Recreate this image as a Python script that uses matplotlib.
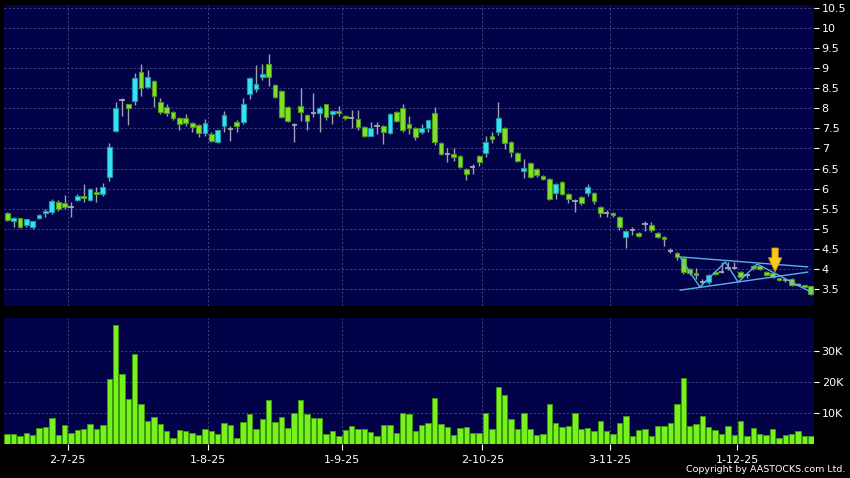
import numpy as np
import matplotlib
matplotlib.use('Agg')
import matplotlib.pyplot as plt

# daily OHLC (HKD)
opens = [5.39, 5.19, 5.27, 5.10, 5.05, 5.27, 5.39, 5.42, 5.67, 5.64,
         5.54, 5.72, 5.82, 5.72, 5.92, 5.87, 6.29, 7.43, 8.20, 8.10,
         8.18, 8.90, 8.53, 8.68, 8.16, 8.03, 7.91, 7.76, 7.76, 7.64,
         7.59, 7.39, 7.36, 7.16, 7.56, 7.49, 7.66, 7.66, 8.36, 8.48,
         8.78, 9.10, 8.58, 8.43, 8.03, 7.59, 8.06, 7.83, 7.88, 7.88,
         8.10, 7.86, 7.93, 7.81, 7.76, 7.73, 7.54, 7.31, 7.56, 7.56,
         7.39, 7.91, 8.00, 7.61, 7.51, 7.41, 7.51, 7.88, 7.14, 6.86,
         6.86, 6.81, 6.49, 6.54, 6.81, 6.89, 7.31, 7.41, 7.51, 7.16,
         6.89, 6.44, 6.64, 6.49, 6.31, 6.24, 5.89, 6.17, 5.87, 5.69,
         5.79, 5.89, 5.89, 5.54, 5.39, 5.39, 5.29, 4.80, 4.97, 4.90,
         5.12, 5.09, 4.90, 4.80, 4.45, 4.40, 4.27, 4.00, 3.90, 3.67,
         3.67, 3.92, 3.92, 4.02, 4.03, 3.92, 3.85, 4.07, 4.07, 3.92,
         3.90, 3.77, 3.72, 3.75, 3.60, 3.60, 3.57]
highs = [5.42, 5.29, 5.28, 5.25, 5.20, 5.37, 5.50, 5.75, 5.72, 5.85,
         5.67, 5.87, 6.12, 6.02, 6.05, 6.15, 7.14, 8.16, 8.26, 8.12,
         8.88, 9.10, 8.96, 8.70, 8.26, 8.10, 7.93, 7.78, 7.85, 7.66,
         7.60, 7.73, 7.40, 7.47, 7.93, 7.56, 7.70, 8.25, 8.78, 9.08,
         9.10, 9.35, 8.60, 8.45, 8.05, 7.64, 8.50, 7.85, 8.38, 8.06,
         8.12, 7.95, 8.05, 7.83, 7.96, 7.96, 7.56, 7.66, 7.66, 7.58,
         7.88, 7.93, 8.10, 7.81, 7.53, 7.60, 7.72, 8.03, 7.16, 7.01,
         7.00, 6.83, 6.51, 6.62, 6.83, 7.30, 7.41, 8.16, 7.53, 7.18,
         6.91, 6.74, 6.66, 6.51, 6.34, 6.26, 6.14, 6.19, 5.89, 5.74,
         5.81, 6.12, 5.91, 5.56, 5.47, 5.41, 5.31, 4.96, 5.04, 4.91,
         5.20, 5.16, 4.92, 4.82, 4.52, 4.42, 4.30, 4.02, 4.02, 3.75,
         3.87, 3.94, 4.18, 4.17, 4.17, 3.94, 3.90, 4.09, 4.10, 3.94,
         3.91, 3.78, 3.76, 3.77, 3.66, 3.61, 3.58]
lows = [5.20, 5.05, 5.03, 5.05, 5.00, 5.25, 5.30, 5.38, 5.45, 5.50,
        5.29, 5.68, 5.67, 5.68, 5.66, 5.82, 6.19, 7.41, 7.81, 7.59,
        8.08, 8.31, 8.50, 8.03, 7.86, 7.80, 7.70, 7.46, 7.55, 7.40,
        7.29, 7.32, 7.16, 7.14, 7.42, 7.19, 7.42, 7.60, 8.23, 8.41,
        8.70, 8.56, 8.25, 7.75, 7.66, 7.16, 7.69, 7.46, 7.78, 7.42,
        7.72, 7.60, 7.80, 7.72, 7.51, 7.45, 7.28, 7.30, 7.36, 7.10,
        7.36, 7.66, 7.40, 7.36, 7.22, 7.36, 7.40, 7.09, 6.84, 6.66,
        6.70, 6.52, 6.22, 6.36, 6.56, 6.80, 7.13, 7.34, 6.99, 6.80,
        6.67, 6.26, 6.26, 6.30, 6.22, 5.72, 5.74, 5.85, 5.64, 5.42,
        5.59, 5.82, 5.62, 5.30, 5.30, 5.30, 4.96, 4.52, 4.85, 4.80,
        4.95, 4.93, 4.78, 4.58, 4.40, 4.22, 3.88, 3.85, 3.75, 3.60,
        3.62, 3.85, 3.90, 3.98, 4.00, 3.78, 3.78, 3.98, 3.98, 3.83,
        3.78, 3.70, 3.68, 3.58, 3.57, 3.53, 3.36]
closes = [5.22, 5.27, 5.05, 5.24, 5.19, 5.34, 5.44, 5.69, 5.50, 5.55,
          5.54, 5.82, 5.77, 6.00, 5.87, 6.04, 7.04, 8.00, 8.20, 8.00,
          8.76, 8.50, 8.78, 8.31, 7.91, 7.88, 7.76, 7.61, 7.64, 7.54,
          7.39, 7.64, 7.19, 7.46, 7.83, 7.49, 7.56, 8.10, 8.76, 8.60,
          8.86, 8.78, 8.28, 7.78, 7.69, 7.59, 7.91, 7.69, 7.88, 8.00,
          7.78, 7.93, 7.88, 7.76, 7.76, 7.54, 7.31, 7.51, 7.56, 7.41,
          7.86, 7.69, 7.46, 7.51, 7.29, 7.51, 7.71, 7.16, 6.86, 6.86,
          6.79, 6.54, 6.36, 6.54, 6.66, 7.16, 7.24, 7.76, 7.14, 6.91,
          6.69, 6.51, 6.29, 6.34, 6.24, 5.74, 6.12, 5.87, 5.74, 5.69,
          5.64, 6.04, 5.69, 5.39, 5.39, 5.34, 5.04, 4.94, 4.97, 4.83,
          5.12, 4.97, 4.80, 4.75, 4.45, 4.30, 3.92, 3.90, 3.85, 3.67,
          3.85, 3.87, 3.92, 4.02, 4.03, 3.80, 3.85, 4.02, 4.00, 3.85,
          3.80, 3.72, 3.72, 3.60, 3.60, 3.55, 3.38]

# volume in thousands of shares
volumes = [3.0, 3.0, 2.4, 3.5, 2.6, 4.9, 5.3, 8.1, 2.8, 5.9,
           3.3, 4.3, 4.8, 6.2, 4.7, 6.0, 20.9, 38.2, 22.5, 14.3,
           28.9, 12.9, 7.2, 8.5, 6.2, 4.0, 1.8, 4.2, 3.9, 3.3,
           2.6, 4.8, 4.1, 3.0, 6.6, 5.9, 1.8, 7.0, 9.5, 4.8,
           8.0, 14.0, 6.9, 8.4, 4.9, 10.0, 13.9, 9.5, 8.1, 8.3,
           3.2, 3.9, 2.5, 4.3, 5.6, 4.6, 4.6, 3.8, 2.5, 5.9,
           6.0, 3.5, 9.7, 9.6, 4.0, 6.1, 6.5, 14.8, 6.3, 5.2,
           2.6, 5.1, 5.2, 3.4, 3.5, 9.8, 4.6, 18.3, 15.8, 7.8,
           4.6, 10.0, 4.6, 2.8, 3.2, 12.9, 6.5, 5.4, 5.8, 10.0,
           4.8, 4.9, 3.9, 7.2, 4.1, 3.2, 6.6, 9.0, 2.5, 4.5,
           4.8, 2.5, 5.5, 5.5, 6.6, 12.7, 21.0, 5.7, 6.2, 8.8,
           5.3, 4.5, 3.0, 5.8, 2.9, 7.2, 2.3, 4.9, 3.2, 2.9,
           4.8, 1.8, 2.7, 3.2, 3.9, 2.3, 2.3]

month_pos = [9.5, 31.5, 52.5, 74.5, 94.5, 114.5]
month_labels = ['2-7-25', '1-8-25', '1-9-25', '2-10-25', '3-11-25', '1-12-25']

# triangle drawn on the chart (index, price)
upper_line = ([105.5, 125.5], [4.30, 4.05])
lower_line = ([105.5, 125.5], [3.47, 3.92])
zigzag = ([105.6, 108.6, 112.6, 114.6, 117.6, 126.3],
          [4.27, 3.55, 4.17, 3.67, 4.12, 3.40])

bg = '#020249'
grid_c = '#4c4c88'
up_c, up_e = '#34e4f2', '#1b97a8'
dn_c, dn_e = '#80e02a', '#4c9818'
doji_c = '#a8a8a8'
wick_c = '#a0a0b0'
line_c = '#5ab0e6'

plt.rcParams['font.family'] = 'DejaVu Sans'
fig = plt.figure(figsize=(8.5, 4.78), dpi=100, facecolor='black')
ax = fig.add_axes([4 / 850, 1 - 306 / 478, 810 / 850, 301 / 478], facecolor=bg)
axv = fig.add_axes([4 / 850, 1 - 443.5 / 478, 810 / 850, 125.5 / 478], facecolor=bg)

x = np.arange(len(closes))
o = np.array(opens)
c = np.array(closes)
h = np.array(highs)
l = np.array(lows)

ax.vlines(x, l, h, color=wick_c, lw=1, zorder=2)
up = c > o
dn = c < o
flat = c == o
ax.bar(x[up], np.maximum((c - o)[up], 0.05), bottom=o[up], width=0.74, color=up_c,
       edgecolor=up_e, lw=0.8, zorder=3)
ax.bar(x[dn], np.maximum((o - c)[dn], 0.05), bottom=c[dn], width=0.74,
       color=dn_c, edgecolor=dn_e, lw=0.8, zorder=3)
ax.hlines(c[flat], x[flat] - 0.42, x[flat] + 0.42, color=doji_c, lw=1.3, zorder=3)

# trend lines
ax.plot(*upper_line, color=line_c, lw=1, zorder=4)
ax.plot(*lower_line, color=line_c, lw=1, zorder=4)
ax.plot(*zigzag, color=line_c, lw=1, zorder=4)

# yellow arrow
ax.annotate('', xy=(120.4, 3.93), xytext=(120.4, 4.52),
            arrowprops=dict(arrowstyle='simple,head_length=1.0,head_width=0.95,tail_width=0.45',
                            mutation_scale=10, fc='#f8c81c', ec='#d89a00', lw=0.6,
                            shrinkA=0, shrinkB=0), zorder=6)

ax.set_xlim(-0.5, 126.5)
ax.set_ylim(3.076, 10.575)
ax.set_yticks(np.arange(3.5, 10.51, 0.5))
ax.set_yticklabels(['%g' % v for v in np.arange(3.5, 10.51, 0.5)])
ax.yaxis.tick_right()
ax.set_xticks(month_pos)
ax.tick_params(axis='x', length=0, labelbottom=False)
ax.tick_params(axis='y', colors='white', labelsize=8, length=3.5, width=0.8, pad=2)
ax.grid(True, color=grid_c, ls=(0, (2.5, 2.5)), lw=0.6)
ax.set_axisbelow(True)

axv.bar(x, volumes, width=0.85, color='#78f21e', edgecolor='#3c960a', lw=0.7, zorder=3)
axv.set_xlim(-0.5, 126.5)
axv.set_ylim(0, 40.5)
axv.set_yticks([10, 20, 30])
axv.set_yticklabels(['10K', '20K', '30K'])
axv.yaxis.tick_right()
axv.set_xticks(month_pos)
axv.set_xticklabels(month_labels)
axv.tick_params(axis='x', colors='white', labelsize=8, length=4, width=0.8, pad=4)
axv.tick_params(axis='y', colors='white', labelsize=8, length=3.5, width=0.8, pad=2)
axv.grid(True, color=grid_c, ls=(0, (2.5, 2.5)), lw=0.6)
axv.set_axisbelow(True)

for a in (ax, axv):
    for s in a.spines.values():
        s.set_visible(False)

fig.text(0.995, 0.008, 'Copyright by AASTOCKS.com Ltd.', ha='right', va='bottom',
         color='white', fontsize=6.8)

fig.savefig('out.png', dpi=100, facecolor='black')
